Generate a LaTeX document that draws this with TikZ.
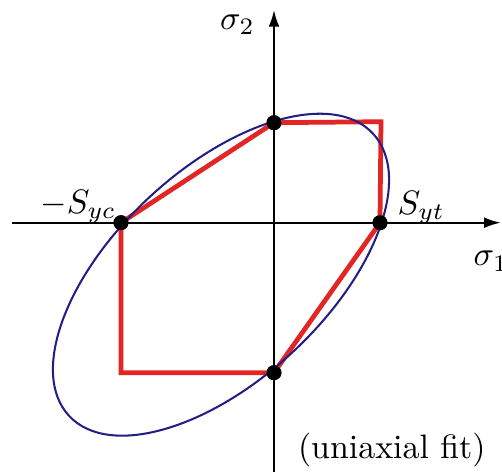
\documentclass[tikz,border=0pt]{standalone}
\usetikzlibrary{arrows.meta}
\definecolor{envred}{RGB}{226,38,38}
\definecolor{fitblue}{RGB}{35,30,130}
\begin{document}
\begin{tikzpicture}[
        x=0.295pt, y=0.295pt,
        axis/.style={line width=0.7pt, -{Latex[length=5pt,width=3.2pt]}},
        pt/.style={circle, fill=black, inner sep=0pt, minimum size=4.4pt},
        lbl/.style={inner sep=0pt},
        envelope/.style={draw=envred, line width=1.4pt, line join=miter},
        quadfit/.style={draw=fitblue, line width=0.6pt}
    ]
    \useasboundingbox (-274,-249.3) rectangle (228,222.7);
    % axis ends
    \coordinate (xs) at (-262,0);
    \coordinate (xe) at (227,0);
    \coordinate (ys) at (0,-252);
    \coordinate (ye) at (0,213);
    % strength points
    \node[pt] (L) at (-153,0) {};
    \node[pt] (R) at (106,0) {};
    \node[pt] (T) at (0,100) {};
    \node[pt] (B) at (0,-150) {};
    \coordinate (tr) at (107,101);
    \coordinate (bl) at (-153,-150);
    \coordinate (ctr) at (-53,-52);
    % envelope and fitted ellipse
    \draw[envelope] (L.center) -- (T.center) -- (tr) -- (R.center)
        -- (B.center) -- (bl) -- cycle;
    \draw[quadfit, rotate around={42.9:(ctr)}] (ctr) ellipse [x radius=207.4, y radius=105.5];
    \draw[axis] (xs) -- (xe);
    \draw[axis] (ys) -- (ye);
    % redraw points on top
    \node[pt] at (L) {};
    \node[pt] at (R) {};
    \node[pt] at (T) {};
    \node[pt] at (B) {};
    % labels
    \node[lbl] (s2) at (-36.5,197.7) {$\sigma_2$};
    \node[lbl] (s1) at (217,-38.5) {$\sigma_1$};
    \node[lbl] (syc) at (-195.7,16) {$-S_{yc}$};
    \node[lbl] (syt) at (147.3,15.2) {$S_{yt}$};
    \node[lbl] (note) at (117.8,-227) {(uniaxial fit)};
\end{tikzpicture}
\end{document}
